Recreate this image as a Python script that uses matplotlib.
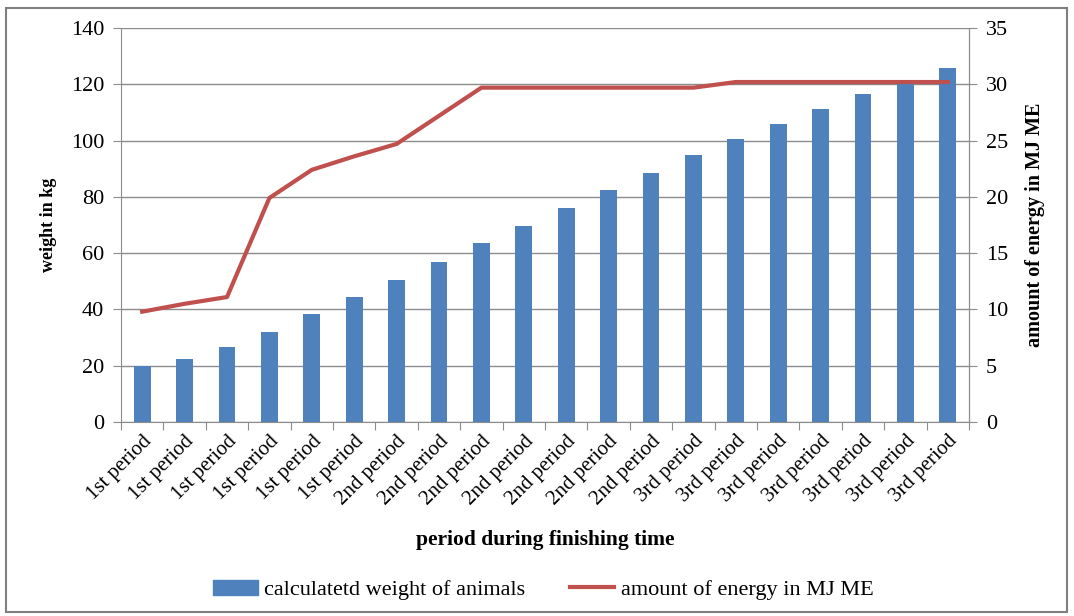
import matplotlib
matplotlib.use("Agg")
import matplotlib.pyplot as plt
import numpy as np
from matplotlib.patches import Rectangle
from matplotlib.lines import Line2D

# data
periods = ["1st period"] * 6 + ["2nd period"] * 7 + ["3rd period"] * 7
weight_kg = [19.8, 22.4, 26.8, 32.1, 38.2, 44.5, 50.5, 57.0, 63.5, 69.5,
             76.0, 82.4, 88.6, 94.8, 100.5, 105.9, 111.3, 116.4, 121.5, 125.8]
energy_mj = [9.8, 10.5, 11.1, 19.9, 22.4, 23.6, 24.7, 27.2, 29.7, 29.7,
             29.7, 29.7, 29.7, 29.7, 30.2, 30.2, 30.2, 30.2, 30.2, 30.2]

plt.rcParams['font.family'] = ['Liberation Serif', 'DejaVu Serif']

bar_color = '#4F81BD'
line_color = '#C0504D'
grid_color = '#8c8c8c'

fig = plt.figure(figsize=(10.74, 6.16), dpi=100)
ax = fig.add_axes([121 / 1074, 1 - 422 / 616, (969 - 121) / 1074, (422 - 28) / 616])
ax2 = ax.twinx()

x = np.arange(len(periods))
ax.bar(x, weight_kg, width=0.4, color=bar_color, zorder=2)
ax.set_ylim(0, 140)
ax.set_yticks(range(0, 141, 20))
ax.set_xlim(-0.5, len(periods) - 0.5)

ax2.plot(x, energy_mj, color=line_color, linewidth=3, zorder=3)
ax2.set_ylim(0, 35)
ax2.set_yticks(range(0, 36, 5))

# draw the line above the bars
ax.set_zorder(1)
ax2.set_zorder(2)
ax.patch.set_visible(False)

ax.grid(axis='y', color=grid_color, linewidth=1, zorder=0)
ax.set_axisbelow(True)

# category ticks between bars, labels centred on bars
ax.set_xticks(np.arange(-0.5, len(periods), 1.0), minor=False)
ax.set_xticklabels([])
ax.set_xticks(x, minor=True)
ax.set_xticklabels(periods, minor=True, rotation=45, ha='right', rotation_mode='anchor', fontsize=15)
ax.tick_params(axis='x', which='minor', length=0, pad=7)
ax.tick_params(axis='x', which='major', length=6, color=grid_color, direction='out')

ax.tick_params(axis='y', labelsize=16, length=6, color=grid_color, pad=6)
ax2.tick_params(axis='y', labelsize=16, length=6, color=grid_color, pad=6)

for a in (ax, ax2):
    a.spines['top'].set_visible(False)
    for side in ('left', 'right', 'bottom'):
        a.spines[side].set_color(grid_color)
ax2.spines['left'].set_visible(False)
ax2.spines['bottom'].set_visible(False)

ax.set_ylabel('weight in kg', fontweight='bold', fontsize=13, labelpad=10)
ax2.set_ylabel('amount of energy in MJ ME', fontweight='bold', fontsize=14.5, labelpad=12)
ax.set_xlabel('period during finishing time', fontweight='bold', fontsize=15.5, labelpad=15)

handles = [Rectangle((0, 0), 1, 1, color=bar_color),
           Line2D([0], [0], color=line_color, linewidth=3)]
fig.legend(handles, ['calculatetd weight of animals', 'amount of energy in MJ ME'],
           loc='center', bbox_to_anchor=(0.506, 1 - 590 / 616), ncol=2, frameon=False,
           fontsize=16, handlelength=2.0, handletextpad=0.3, columnspacing=2.0)

# outer frame of the figure
fig.patches.append(Rectangle((6 / 1074, 4 / 616), 1061 / 1074, 604 / 616, transform=fig.transFigure,
                             fill=False, edgecolor='#7f7f7f', linewidth=1.5))

fig.savefig('out.png', dpi=100)
